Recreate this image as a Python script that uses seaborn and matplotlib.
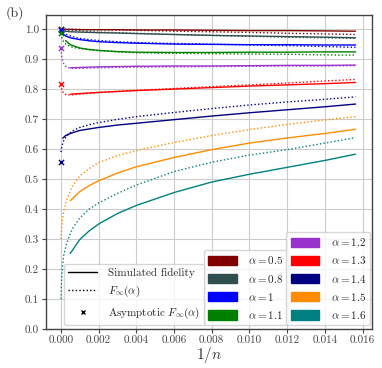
import numpy as np
import pandas as pd
import matplotlib
matplotlib.use("Agg")
import matplotlib.pyplot as plt
import seaborn as sns
from matplotlib.lines import Line2D
from matplotlib.patches import Patch

nan = np.nan

ALPHAS = ["0.5", "0.8", "1", "1.1", "1.2", "1.3", "1.4", "1.5", "1.6"]
COLORS = ["#800000", "#2F4F4F", "#0000FF", "#008000", "#9932CC",
          "#FF0000", "#000080", "#FF8C00", "#008080"]

# 1/n grid for the F_inf(alpha) curves
X_INF = [0.00001, 0.00003, 0.00007, 0.00015, 0.0003, 0.0006, 0.001, 0.0015,
         0.002, 0.003, 0.004, 0.006, 0.008, 0.010, 0.012, 0.014, 0.015625]
INF_05 = [1.0, 1.0, 1.0, 1.0, 0.999, 0.999, 0.999, 0.998, 0.998, 0.997, 0.996,
          0.993, 0.991, 0.989, 0.986, 0.984, 0.982]
INF_08 = [1.0, 0.999, 0.999, 0.998, 0.997, 0.996, 0.994, 0.992, 0.990, 0.988,
          0.986, 0.982, 0.979, 0.976, 0.973, 0.971, 0.969]
INF_10 = [0.999, 0.997, 0.993, 0.988, 0.982, 0.975, 0.969, 0.965, 0.962, 0.958,
          0.955, 0.952, 0.950, 0.947, 0.945, 0.942, 0.939]
INF_11 = [0.985, 0.978, 0.968, 0.957, 0.948, 0.940, 0.935, 0.931, 0.928, 0.924,
          0.921, 0.919, 0.918, 0.917, 0.916, 0.914, 0.913]
INF_12 = [0.935, 0.920, 0.900, 0.885, 0.873, 0.869, 0.869, 0.870, 0.871, 0.872,
          0.873, 0.874, 0.875, 0.876, 0.877, 0.877, 0.878]
INF_13 = [0.815, 0.805, 0.795, 0.786, 0.780, 0.781, 0.783, 0.786, 0.788, 0.792,
          0.796, 0.802, 0.808, 0.814, 0.820, 0.827, 0.832]
INF_14 = [0.590, 0.600, 0.613, 0.628, 0.643, 0.660, 0.672, 0.681, 0.688, 0.699,
          0.708, 0.722, 0.735, 0.747, 0.757, 0.766, 0.774]
INF_15 = [0.300, 0.330, 0.360, 0.390, 0.430, 0.475, 0.510, 0.535, 0.555, 0.578,
          0.595, 0.622, 0.645, 0.665, 0.682, 0.697, 0.708]
INF_16 = [0.100, 0.150, 0.200, 0.245, 0.285, 0.333, 0.370, 0.400, 0.420, 0.452,
          0.480, 0.525, 0.556, 0.580, 0.598, 0.620, 0.638]

# 1/n grid for the simulated fidelity
X_SIM = [0.0001, 0.00025, 0.0005, 0.001, 0.0015, 0.002, 0.003, 0.004, 0.006,
         0.008, 0.010, 0.012, 0.014, 0.015625]
SIM_05 = [0.999, 0.999, 0.999, 0.998, 0.998, 0.998, 0.998, 0.997, 0.997, 0.996,
          0.995, 0.995, 0.994, 0.993]
SIM_08 = [0.995, 0.993, 0.991, 0.990, 0.989, 0.988, 0.987, 0.985, 0.982, 0.979,
          0.977, 0.975, 0.973, 0.971]
SIM_10 = [0.985, 0.977, 0.971, 0.965, 0.961, 0.958, 0.955, 0.953, 0.950, 0.949,
          0.948, 0.948, 0.947, 0.947]
SIM_11 = [nan, 0.962, 0.948, 0.937, 0.932, 0.929, 0.925, 0.923, 0.922, 0.922,
          0.923, 0.923, 0.924, 0.924]
SIM_12 = [nan, nan, 0.871, 0.872, 0.873, 0.874, 0.875, 0.876, 0.877, 0.877,
          0.878, 0.879, 0.879, 0.880]
SIM_13 = [nan, nan, 0.783, 0.785, 0.787, 0.789, 0.792, 0.795, 0.800, 0.805,
          0.810, 0.814, 0.818, 0.822]
SIM_14 = [0.636, 0.645, 0.652, 0.662, 0.667, 0.672, 0.680, 0.686, 0.698, 0.710,
          0.721, 0.731, 0.741, 0.750]
SIM_15 = [nan, nan, 0.428, 0.458, 0.478, 0.494, 0.520, 0.541, 0.572, 0.598,
          0.620, 0.637, 0.652, 0.666]
SIM_16 = [nan, nan, 0.252, 0.298, 0.327, 0.350, 0.385, 0.412, 0.455, 0.490,
          0.516, 0.539, 0.562, 0.583]

# asymptotic values at 1/n = 0
ASYM = [1.0, 1.0, 0.998, 0.986, 0.938, 0.817, 0.556, nan, nan]

INF_ALL = [INF_05, INF_08, INF_10, INF_11, INF_12, INF_13, INF_14, INF_15, INF_16]
SIM_ALL = [SIM_05, SIM_08, SIM_10, SIM_11, SIM_12, SIM_13, SIM_14, SIM_15, SIM_16]

sns.set_theme(style="whitegrid")
plt.rcParams.update({
    "font.family": "serif",
    "font.serif": ["cmr10"],
    "mathtext.fontset": "cm",
    "axes.formatter.use_mathtext": True,
    "axes.unicode_minus": False,
    "axes.edgecolor": "#444444",
    "axes.linewidth": 1.0,
    "grid.color": "#cccccc",
    "grid.linewidth": 0.8,
    "xtick.bottom": True,
    "ytick.left": True,
    "xtick.color": "#444444",
    "ytick.color": "#444444",
    "xtick.major.size": 3,
    "ytick.major.size": 3,
    "xtick.major.width": 0.8,
    "ytick.major.width": 0.8,
})

fig = plt.figure(figsize=(3.82, 3.68), dpi=100)
ax = fig.add_axes([0.12, 0.106, 0.854, 0.853])

for a, c, yi, ys, asy in zip(ALPHAS, COLORS, INF_ALL, SIM_ALL, ASYM):
    di = pd.DataFrame({"x": X_INF, "y": yi}).dropna()
    ds = pd.DataFrame({"x": X_SIM, "y": ys}).dropna()
    sns.lineplot(data=di, x="x", y="y", color=c, linewidth=1.0,
                 dashes=False, ax=ax, estimator=None, sort=False).lines[-1].set_linestyle((0, (1, 1.6)))
    sns.lineplot(data=ds, x="x", y="y", color=c, linestyle="-", linewidth=1.0,
                 ax=ax, estimator=None, sort=False)
    if not np.isnan(asy):
        da = pd.DataFrame({"x": [0.0], "y": [asy]})
        sns.scatterplot(data=da, x="x", y="y", color=c, marker="x", s=14,
                        linewidth=1.0, ax=ax, zorder=5)

ax.set_xlim(-0.000796, 0.0165)
ax.set_ylim(0, 1.0467)
ax.set_xticks(np.arange(0, 0.0161, 0.002))
ax.set_xticklabels([f"{v:.3f}" for v in np.arange(0, 0.0161, 0.002)], fontsize=8)
ax.set_yticks(np.arange(0, 1.01, 0.1))
ax.set_yticklabels([f"{v:.1f}" for v in np.arange(0, 1.01, 0.1)], fontsize=8)
ax.tick_params(axis="both", pad=2, labelcolor="#444444")
ax.set_xlabel("$1/n$", fontsize=11, labelpad=0, color="#333333")
ax.set_ylabel("")
ax.grid(True)

h1 = [Line2D([], [], color="black", linestyle="-", linewidth=1.0),
      Line2D([], [], color="black", linestyle=(0, (1, 1.6)), linewidth=1.0),
      Line2D([], [], color="black", linestyle="none", marker="x", markersize=3.5)]
l1 = ["Simulated fidelity", r"$F_\infty(\alpha)$", r"Asymptotic $F_\infty(\alpha)$"]
leg1 = ax.legend(h1, l1, loc="lower left", bbox_to_anchor=(0.055, 0.012),
                 fontsize=8, handlelength=2.6, labelspacing=0.55,
                 borderaxespad=0.0, handletextpad=1.0)
ax.add_artist(leg1)

h2 = [Patch(facecolor=COLORS[i], edgecolor=COLORS[i]) for i in range(4)]
l2 = [rf"$\alpha = {ALPHAS[i]}$" for i in range(4)]
leg2 = ax.legend(h2, l2, loc="lower right", bbox_to_anchor=(0.742, 0.012),
                 fontsize=8, handlelength=2.6, handleheight=0.9,
                 labelspacing=0.55, borderaxespad=0.0, handletextpad=1.0)
ax.add_artist(leg2)

h3 = [Patch(facecolor=COLORS[i], edgecolor=COLORS[i]) for i in range(4, 9)]
l3 = [rf"$\alpha = {ALPHAS[i]}$" for i in range(4, 9)]
leg3 = ax.legend(h3, l3, loc="lower right", bbox_to_anchor=(0.995, 0.012),
                 fontsize=8, handlelength=2.6, handleheight=0.9,
                 labelspacing=0.55, borderaxespad=0.0, handletextpad=1.0)

fig.text(0.015, 0.955, "(b)", fontsize=10, color="#333333")

fig.savefig("out.png", dpi=100)
